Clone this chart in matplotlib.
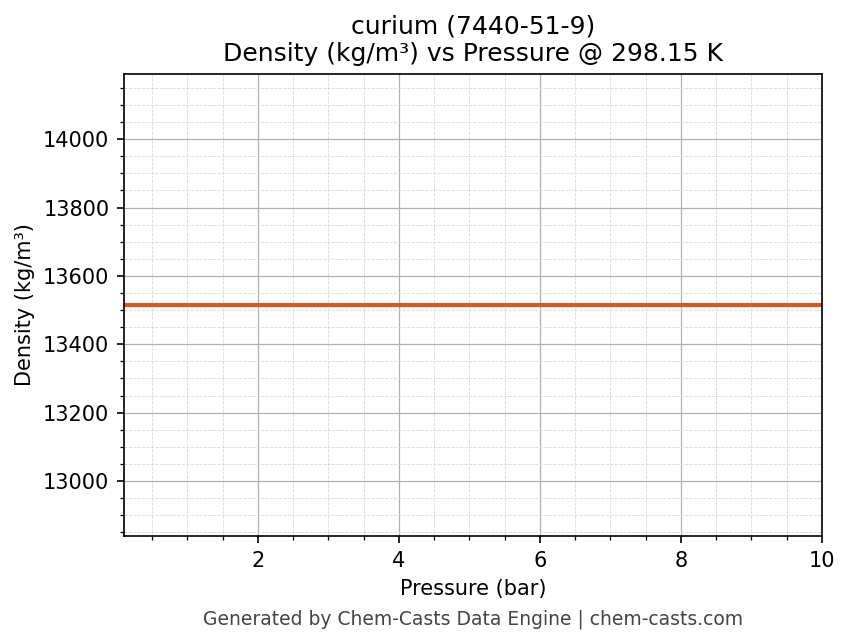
import numpy as np
import matplotlib
matplotlib.use("Agg")
import matplotlib.pyplot as plt
from matplotlib.ticker import MultipleLocator

# data
pressure = [0.1, 1.0, 2.0, 3.0, 4.0, 5.0, 6.0, 7.0, 8.0, 9.0, 10.0]
density = [13515.0] * len(pressure)

title = "curium (7440-51-9)\nDensity (kg/m³) vs Pressure @ 298.15 K"
footer = "Generated by Chem-Casts Data Engine | chem-casts.com"

fig = plt.figure(figsize=(850 / 150, 644 / 150), dpi=150)
ax = fig.add_axes([124 / 850, 1 - 536 / 644, (822 - 124) / 850, (536 - 74) / 644])

ax.plot(pressure, density, color='#d95722', lw=2.0)
ax.set_xlim(min(pressure), max(pressure))
ax.set_ylim(density[0] * 0.95, density[0] * 1.05)

ax.xaxis.set_major_locator(MultipleLocator(2))
ax.xaxis.set_minor_locator(MultipleLocator(0.5))
ax.yaxis.set_major_locator(MultipleLocator(200))
ax.yaxis.set_minor_locator(MultipleLocator(50))

ax.grid(which='major', color='#b0b0b0', lw=0.6)
ax.grid(which='minor', color='#d8d8d8', lw=0.4, ls='--')
ax.set_axisbelow(True)

ax.set_title(title, fontsize=12)
ax.set_xlabel("Pressure (bar)", fontsize=10)
ax.set_ylabel("Density (kg/m³)", fontsize=10)

fig.text(473 / 850, 1 - 619 / 644, footer, ha='center', va='center',
         fontsize=9, color='#444444')

fig.savefig("out.png", dpi=150)
